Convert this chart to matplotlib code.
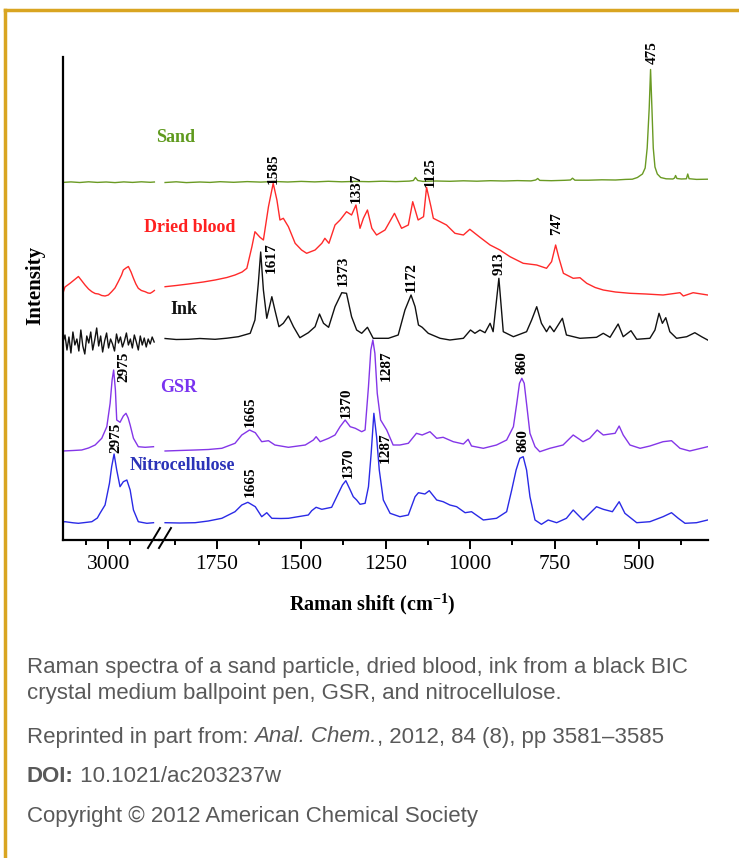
import matplotlib
matplotlib.use("Agg")
import matplotlib.pyplot as plt
from matplotlib.lines import Line2D

plt.rcParams['font.family'] = ['Liberation Serif', 'DejaVu Serif']
plt.rcParams['mathtext.fontset'] = 'custom'
plt.rcParams['mathtext.rm'] = 'Liberation Serif:bold'
plt.rcParams['mathtext.bf'] = 'Liberation Serif:bold'

# ---- data: (Raman shift, intensity) ----
sand_left = [(3206, 357.6), (3170, 358.1), (3130, 357.5), (3090, 358.2), (3050, 357.6), (3010, 358.0),
             (2970, 357.4), (2930, 358.1), (2890, 357.6), (2850, 358.2), (2810, 357.7), (2791, 358.0)]
sand_right = [(1903, 357.5), (1870, 358.2), (1840, 357.4), (1800, 358.0), (1770, 357.6), (1740, 358.3),
              (1700, 357.7), (1660, 358.4), (1620, 357.9), (1580, 358.5), (1540, 358.0), (1500, 358.6),
              (1460, 358.1), (1420, 358.7), (1380, 358.2), (1340, 358.6), (1300, 358.3), (1260, 358.8),
              (1220, 358.4), (1180, 358.9), (1168, 359.5), (1162, 362.5), (1155, 359.5), (1140, 358.6),
              (1100, 359.0), (1060, 358.7), (1020, 359.2), (980, 358.8), (940, 359.3), (900, 359.0),
              (860, 359.4), (820, 359.1), (806, 360.0), (800, 361.5), (794, 359.6), (760, 359.3),
              (720, 359.7), (703, 360.0), (697, 361.8), (690, 359.8), (650, 359.8), (610, 360.2),
              (570, 360.0), (540, 360.6), (520, 360.8), (505, 362.5), (490, 366), (482, 372),
              (476, 392), (470, 432), (466, 470.5), (462, 432), (458, 392), (453, 373), (446, 366),
              (436, 362.5), (420, 361.2), (400, 361.0), (395, 362), (392, 364.5), (388, 361.5),
              (375, 361), (360, 361.2), (356, 366), (352, 361.3), (330, 360.6), (297, 360.8)]

blood_left = [(3206, 247), (3197, 253), (3174, 256.7), (3150, 261), (3136, 263.5), (3120, 259),
              (3106, 255), (3090, 251), (3075, 248.3), (3060, 246.5), (3045, 246), (3030, 244.5),
              (3015, 244), (3000, 245), (2985, 248.3), (2970, 252), (2955, 258.3), (2940, 265),
              (2932, 270), (2920, 272), (2909, 273.5), (2897, 268), (2886, 261.7), (2875, 256),
              (2864, 251.7), (2850, 249.5), (2833, 248.3), (2820, 247), (2810, 246.7), (2800, 248),
              (2791, 249.5)]
blood_right = [(1903, 253.3), (1870, 254.5), (1834, 256), (1790, 258), (1755, 260), (1720, 262.5),
               (1696, 265), (1675, 268), (1661, 271.7), (1646, 293.3), (1637, 308.3), (1622, 302.7),
               (1612, 300), (1597, 333.3), (1583, 356.7), (1572, 340), (1563, 320), (1553, 321.7),
               (1538, 313.3), (1518, 296.7), (1499, 290), (1484, 286.7), (1459, 290), (1439, 296.7),
               (1430, 301.7), (1418, 296.7), (1400, 315), (1385, 320), (1366, 328.3), (1351, 325),
               (1338, 335), (1326, 311.7), (1316, 321.7), (1304, 330), (1291, 311.7), (1277, 305),
               (1252, 310), (1224, 326.7), (1203, 311.7), (1183, 315), (1170, 338.3), (1154, 320),
               (1138, 323.3), (1129, 352.7), (1116, 333.3), (1109, 321.7), (1089, 318.3), (1070, 315),
               (1045, 306.7), (1020, 305), (1001, 310.7), (971, 302.7), (941, 295), (912, 290),
               (882, 283.3), (843, 276.7), (803, 275), (774, 271.7), (759, 278.3), (747, 295),
               (737, 281.7), (724, 266.7), (695, 261.7), (675, 262.3), (655, 256.7), (630, 252.5),
               (606, 250), (570, 248), (527, 246.7), (480, 246), (429, 245), (379, 247.3), (369, 244),
               (340, 247.3), (297, 245)]

ink_left_wn = [3206, 3197, 3188, 3179, 3170, 3161, 3152, 3143, 3134, 3125, 3116, 3107, 3098, 3089,
               3080, 3071, 3062, 3053, 3044, 3035, 3026, 3017, 3008, 2999, 2990, 2981, 2972, 2963,
               2954, 2945, 2936, 2927, 2918, 2909, 2900, 2891, 2882, 2873, 2864, 2855, 2846, 2837,
               2828, 2819, 2810, 2801, 2792]
ink_left_int = [198, 205, 190, 203, 187, 208, 195, 201, 189, 210, 194, 186, 204, 197, 208, 190,
                200, 212, 194, 204, 188, 199, 207, 192, 201, 196, 189, 206, 197, 203, 193, 199,
                207, 195, 201, 192, 205, 198, 190, 204, 195, 202, 193, 201, 196, 203, 198]
ink_right = [(1903, 201.5), (1870, 200.5), (1834, 200.7), (1800, 201.5), (1755, 200.7), (1720, 201.8),
             (1686, 203.3), (1651, 206.7), (1637, 220), (1627, 256.7), (1620, 288), (1612, 250),
             (1602, 221.7), (1587, 243.3), (1578, 230), (1566, 213.3), (1553, 216.7), (1538, 224),
             (1523, 213.3), (1504, 202.3), (1479, 207.3), (1459, 213.3), (1446, 226), (1434, 216.7),
             (1419, 212.7), (1400, 233.3), (1380, 247.3), (1366, 246.7), (1351, 223.3), (1336, 210),
             (1321, 206.7), (1304, 212.7), (1287, 201.7), (1242, 201.7), (1213, 205), (1193, 230),
             (1175, 245), (1163, 233.3), (1153, 215), (1142, 212.7), (1124, 206.7), (1089, 201.7),
             (1060, 200), (1020, 201.7), (999, 210), (986, 206.7), (971, 210), (956, 207.3),
             (941, 216.7), (932, 208.3), (915, 261.7), (902, 208.3), (872, 203.3), (833, 208.3),
             (818, 220), (803, 233.3), (789, 216.7), (774, 208.3), (764, 214), (752, 208.3),
             (727, 221.7), (715, 205), (675, 201.7), (626, 202.7), (606, 206.7), (586, 202.7),
             (562, 216), (547, 203.3), (524, 209.3), (507, 200.7), (468, 201.7), (453, 210),
             (441, 226.7), (431, 216.7), (421, 222.3), (409, 208.3), (389, 201.7), (359, 203.3),
             (335, 207.3), (315, 203.3), (297, 200)]

gsr_left = [(3206, 89), (3160, 89.5), (3121, 90), (3090, 92), (3060, 95), (3030, 101.7), (3007, 113.3),
            (2992, 136.7), (2983, 160), (2976, 170), (2968, 150), (2962, 120), (2947, 117.7),
            (2932, 124), (2920, 126.7), (2910, 122), (2901, 115), (2886, 101.7), (2864, 93.3),
            (2833, 92.7), (2795, 93.3)]
gsr_right = [(1903, 89), (1860, 89.5), (1814, 90), (1775, 90.5), (1735, 91.7), (1696, 96.7),
             (1676, 105), (1653, 110), (1636, 107.3), (1617, 98.3), (1597, 99.3), (1578, 95),
             (1538, 92.7), (1488, 95), (1464, 100), (1456, 103.3), (1444, 98.3), (1419, 101.7),
             (1400, 105), (1385, 113.3), (1370, 120), (1355, 113.3), (1340, 111.7), (1321, 108.3),
             (1311, 110), (1301, 153.3), (1294, 190), (1288, 200), (1282, 186.7), (1275, 146.7),
             (1265, 120), (1247, 110), (1228, 95), (1208, 95), (1183, 96.7), (1159, 106.7),
             (1142, 105), (1119, 108.3), (1099, 101.7), (1080, 102.7), (1050, 98.3), (1020, 96),
             (1006, 100.7), (996, 94), (961, 91.7), (922, 95), (892, 100), (872, 113.3), (862, 136.7),
             (854, 156.7), (847, 161.7), (840, 156.7), (832, 133.3), (823, 106.7), (808, 93.3),
             (794, 88.3), (764, 91.7), (725, 95), (695, 105), (666, 98.3), (646, 101.7), (624, 110),
             (606, 105), (586, 106), (571, 106.7), (559, 114), (547, 105), (527, 95), (497, 91.7),
             (468, 94), (429, 98.3), (404, 99.3), (379, 91.7), (350, 89), (297, 93.3)]

nitro_left = [(3206, 18), (3197, 18.3), (3160, 17.2), (3136, 16.7), (3105, 17.5), (3075, 18.3),
              (3050, 22), (3038, 26.7), (3015, 35), (2995, 56.7), (2985, 73.3), (2974, 86),
              (2962, 70), (2947, 53.3), (2932, 58.3), (2916, 60), (2901, 50), (2886, 30),
              (2864, 18.3), (2845, 17.5), (2825, 16.7), (2795, 17.3)]
nitro_right = [(1903, 17.3), (1860, 17.0), (1814, 17.3), (1775, 19), (1735, 21.7), (1696, 28.3),
               (1676, 35), (1658, 37.7), (1636, 33.3), (1617, 23.3), (1602, 27.3), (1587, 21.7),
               (1560, 21.5), (1538, 21.7), (1479, 25), (1469, 29.3), (1456, 32.7), (1439, 30.7),
               (1410, 32.7), (1390, 46.7), (1378, 55), (1368, 59.3), (1355, 50), (1346, 43.3),
               (1336, 40), (1326, 35.7), (1311, 36.7), (1301, 53.3), (1293, 86.7), (1285, 126.7),
               (1277, 103.3), (1269, 70), (1257, 40), (1237, 26.7), (1208, 23.3), (1183, 25),
               (1163, 43.3), (1153, 47.3), (1134, 46), (1121, 49.3), (1099, 40), (1080, 38.3),
               (1060, 35), (1040, 33.3), (1015, 27.3), (996, 28.3), (961, 20), (922, 21.7),
               (892, 28.3), (877, 50), (864, 70), (853, 81.7), (843, 83.3), (833, 70), (823, 43.3),
               (808, 20), (789, 15.7), (769, 20), (744, 17.3), (715, 21.7), (695, 30), (666, 20),
               (626, 33.3), (606, 30.7), (579, 28.3), (559, 38.3), (542, 26.7), (507, 17.3),
               (468, 18.3), (429, 23.3), (404, 27.3), (384, 21.7), (364, 16.7), (330, 17.3),
               (297, 20)]

spectra = [
    (sand_left, sand_right, '#6a9a23'),
    (blood_left, blood_right, '#ff2a2a'),
    (list(zip(ink_left_wn, ink_left_int)), ink_right, '#111111'),
    (gsr_left, gsr_right, '#8436e8'),
    (nitro_left, nitro_right, '#2a2ae6'),
]

names = ['Sand', 'Dried blood', 'Ink', 'GSR', 'Nitrocellulose']
name_colors = ['#5f9a1e', '#ff2020', '#111111', '#7a33f0', '#2b33b8']
name_pos = [(1872, 402), (1829, 312), (1848, 231), (1864, 152), (1851, 74)]

# peak labels: (shift, height, text)
left_labels = [(2929, 173, '2975'), (2966, 102, '2975')]
right_labels = [(460, 487, '475'), (1582, 371, '1585'), (1338, 352, '1337'), (1119, 367.5, '1125'),
                (744, 316, '747'), (1589, 282, '1617'), (1375, 269, '1373'), (1173, 262.5, '1172'),
                (914, 276.5, '913'), (1651, 128, '1665'), (1366, 137, '1370'), (1247, 174, '1287'),
                (848, 177.5, '860'), (1651, 58, '1665'), (1361, 77.5, '1370'), (1252, 92.5, '1287'),
                (843, 99, '860')]

W, H = 739, 858
fig = plt.figure(figsize=(W / 100, H / 100), dpi=100)

def px(x, y):
    return x / W, 1 - y / H

ax1 = fig.add_axes([63 / W, 1 - 540 / H, 96 / W, 483 / H])
ax2 = fig.add_axes([159 / W, 1 - 540 / H, 549 / W, 483 / H])
ax1.set_xlim(3206, 2770)
ax2.set_xlim(1921, 296)
for ax in (ax1, ax2):
    ax.set_ylim(0, 483)
    ax.set_yticks([])
    ax.spines['top'].set_visible(False)
    ax.spines['right'].set_visible(False)
    ax.spines['bottom'].set_linewidth(1.6)
    ax.spines['left'].set_linewidth(1.6)
    ax.tick_params(axis='x', which='major', direction='out', length=6.5, width=1.4, labelsize=15.5, pad=4)
    ax.tick_params(axis='x', which='minor', direction='out', length=3.5, width=1.4)
    ax.patch.set_alpha(0)
ax2.spines['left'].set_visible(False)
ax1.set_xticks([3000])
ax1.set_xticks([3100, 2900], minor=True)
ax2.set_xticks([1750, 1500, 1250, 1000, 750, 500])
ax2.set_xticks([1875, 1625, 1375, 1125, 875, 625, 375], minor=True)

for left, right, col in spectra:
    xs, ys = zip(*left)
    ax1.plot(xs, ys, color=col, lw=1.0)
    xs, ys = zip(*right)
    ax2.plot(xs, ys, color=col, lw=1.0)

for nm, c, (x, y) in zip(names, name_colors, name_pos):
    ax2.text(x, y, nm, color=c, fontsize=13, fontweight='bold', ha='center', va='center', clip_on=False)

for x, y, t in left_labels:
    ax1.text(x, y, t, rotation=90, fontsize=11, fontweight='bold', ha='center', va='center', clip_on=False)
for x, y, t in right_labels:
    ax2.text(x, y, t, rotation=90, fontsize=11, fontweight='bold', ha='center', va='center', clip_on=False)

# axis break marks
for x0 in (148, 159):
    fig.add_artist(Line2D([x0 / W, (x0 + 12) / W], [1 - 548 / H, 1 - 528 / H], color='black', lw=1.4))

fig.text(*px(35, 285), 'Intensity', rotation=90, fontsize=15, fontweight='bold', ha='center', va='center')
fig.text(*px(372, 604), r'Raman shift (cm$^{-1}$)', fontsize=14.5, fontweight='bold', ha='center', va='center')

# frame of the figure page
fig.add_artist(Line2D([5 / W, 1], [1 - 10 / H, 1 - 10 / H], color='#d9a521', lw=2.5))
fig.add_artist(Line2D([5 / W, 5 / W], [0, 1 - 10 / H], color='#d9a521', lw=2.5))

# caption
cap_kw = dict(color='#595959', fontsize=16, family='Liberation Sans', va='center', ha='left')
fig.text(*px(27, 667), 'Raman spectra of a sand particle, dried blood, ink from a black BIC', **cap_kw)
fig.text(*px(27, 694), 'crystal medium ballpoint pen, GSR, and nitrocellulose.', **cap_kw)

renderer = fig.canvas.get_renderer()

def run(pieces, y):
    x = 27
    for txt, extra in pieces:
        t = fig.text(*px(x, y), txt, **{**cap_kw, **extra})
        x += t.get_window_extent(renderer).width

run([('Reprinted in part from: ', {}), ('Anal. Chem.', {'style': 'italic'}),
     (', 2012, 84 (8), pp 3581\u20133585', {})], 737)
run([('DOI:', {'fontweight': 'bold'}), (' 10.1021/ac203237w', {})], 776)
fig.text(*px(27, 816), 'Copyright \u00a9 2012 American Chemical Society', **cap_kw)

fig.savefig('out.png', dpi=100)
